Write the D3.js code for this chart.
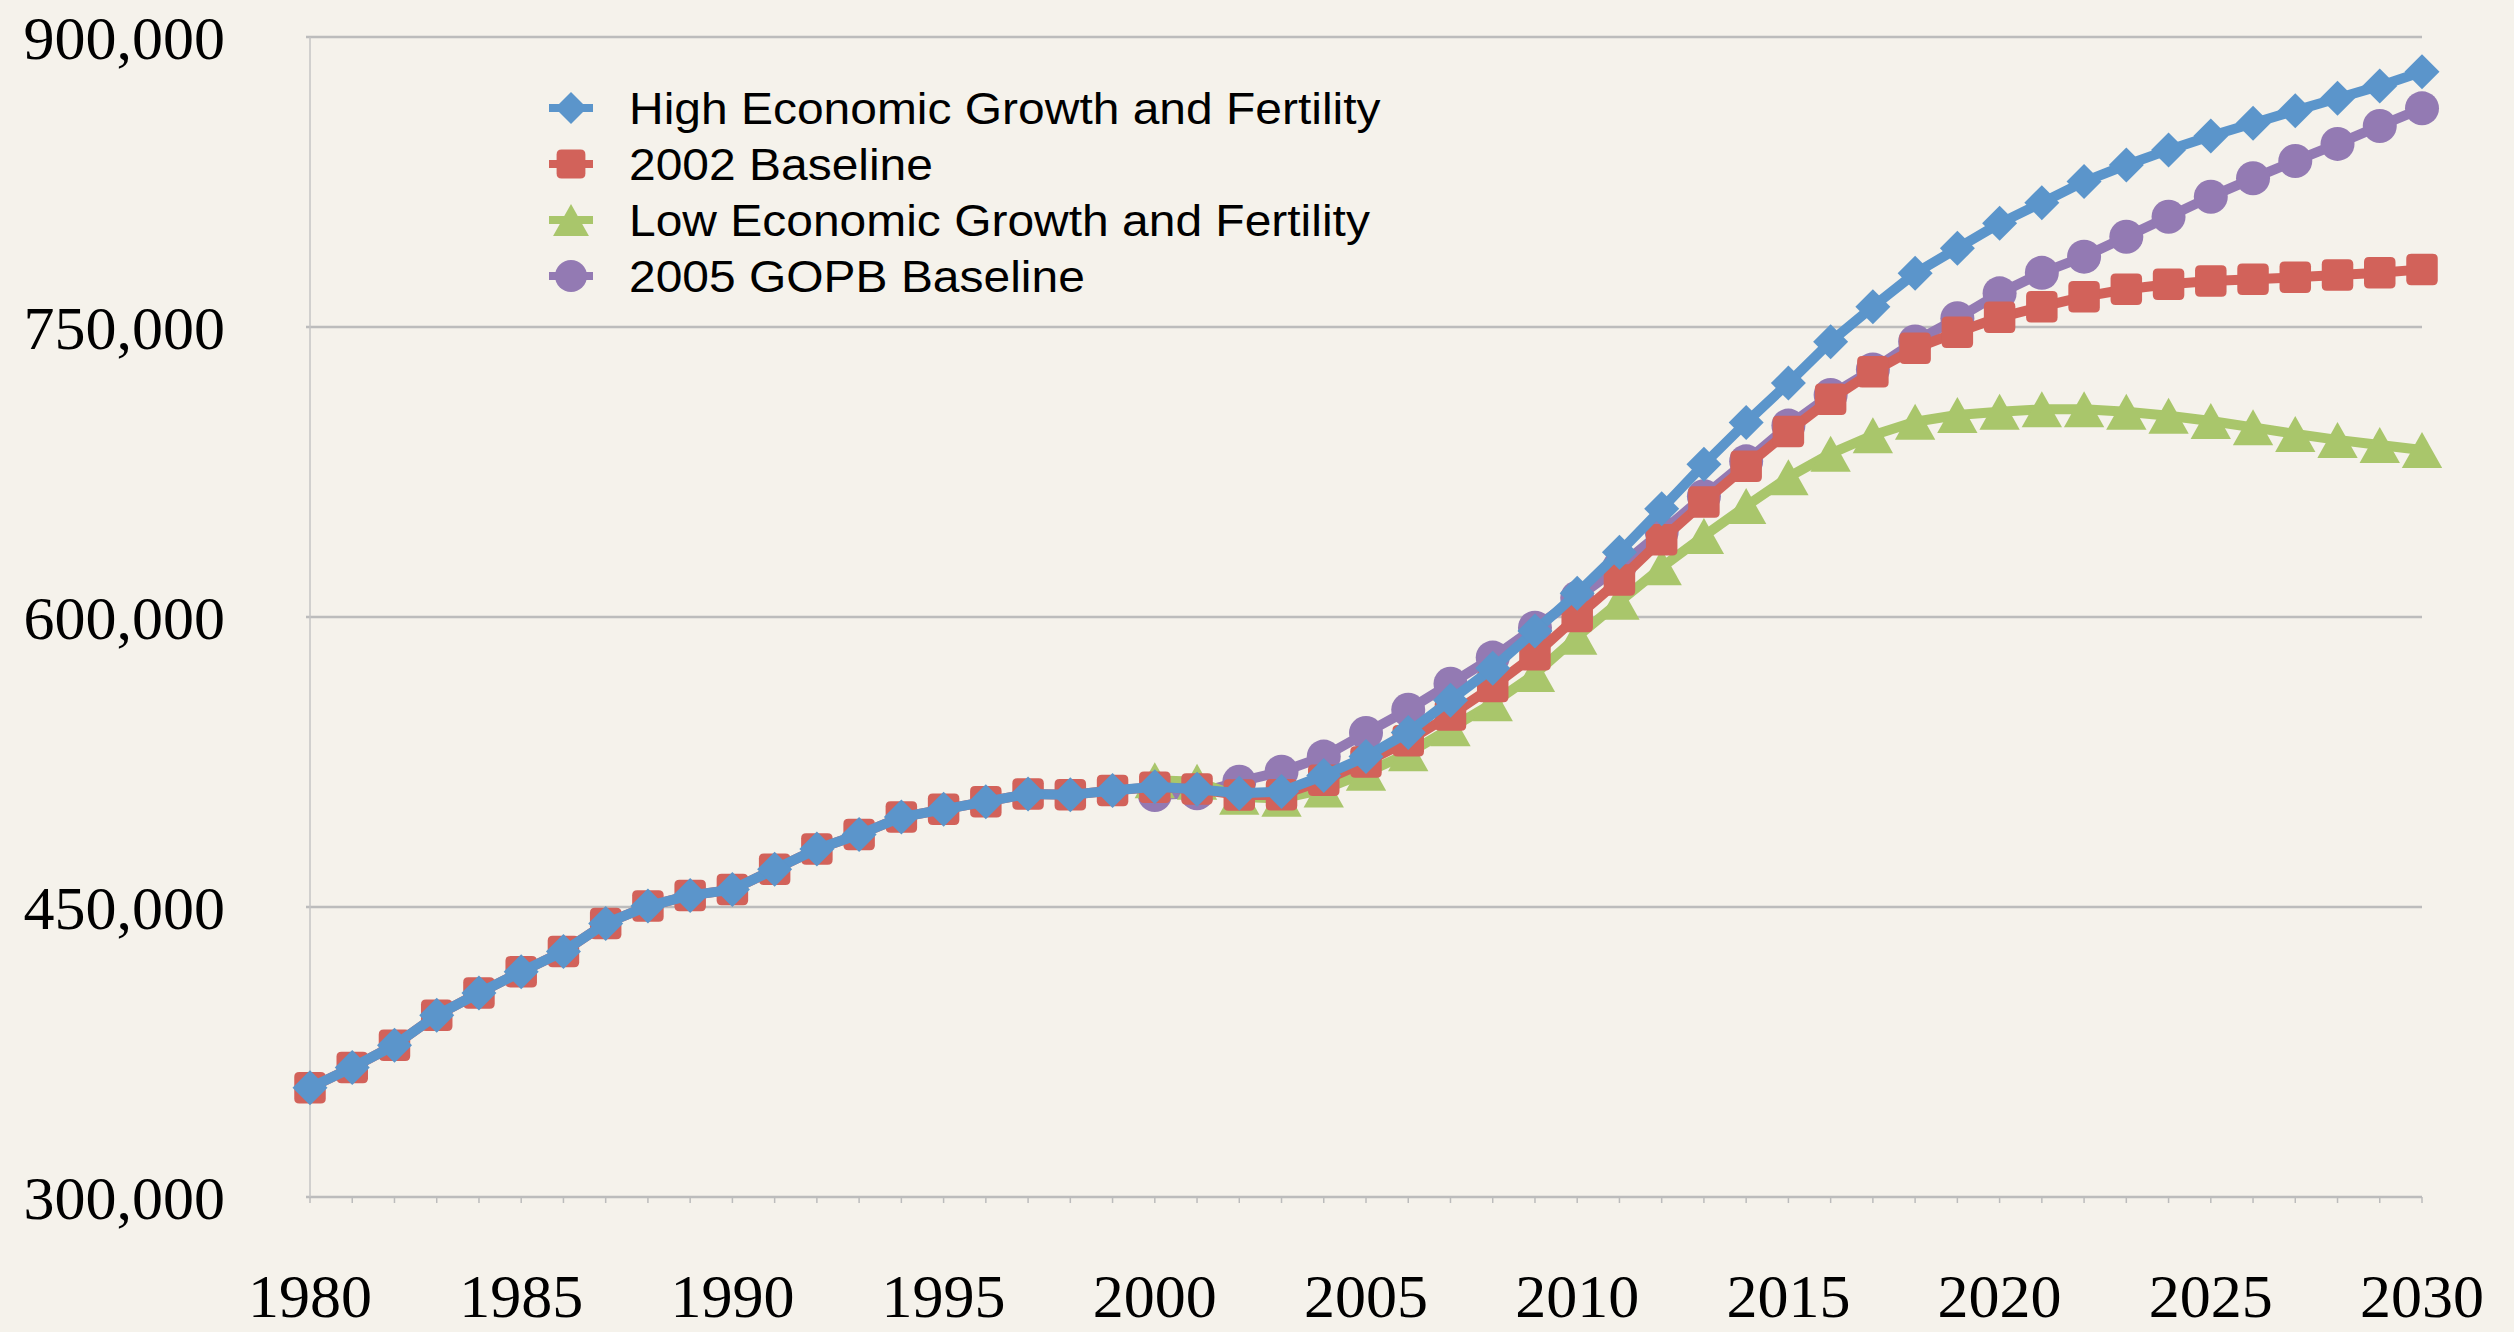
<!DOCTYPE html>
<html>
<head>
<meta charset="utf-8">
<script src="https://cdn.jsdelivr.net/npm/d3@7"></script>
<style>
  html, body { margin: 0; padding: 0; background: #f5f2eb; }
  svg { display: block; }
  .tick-label { font-family: "Liberation Serif", "Times New Roman", serif; font-size: 62px; fill: #000; }
  .legend-label { font-family: "Liberation Sans", Arial, sans-serif; font-size: 44px; fill: #000; }
</style>
</head>
<body>
<svg id="chart" width="2514" height="1332"></svg>
<script>
// Categories and axis ticks
var years = d3.range(1980, 2031);
var yTicks = [300000, 450000, 600000, 750000, 900000];
var xTicks = [1980, 1985, 1990, 1995, 2000, 2005, 2010, 2015, 2020, 2025, 2030];

// Shared estimates 1980-1999 (blue and red sit on top of each other here)
var pastValues = [
  356500, 367000, 378500, 394000, 405500, 416500, 427000, 441500, 450500, 456000,
  459000, 469500, 480000, 487500, 496500, 500500, 504500, 508500, 508000, 510300
];

// Projections 2000-2030
var highGrowth = [
  512200, 510900, 508800, 509700, 518000, 527800, 540300, 557000, 573500, 592800,
  612300, 633500, 656000, 679000, 700600, 721000, 742400, 760500, 777800, 790700,
  803600, 814300, 825200, 833800, 841600, 848800, 855400, 861900, 868300, 874700, 882000
];
var baseline2002 = [
  512000, 511000, 507900, 508000, 515500, 525000, 536000, 549300, 564000, 580500,
  600200, 619100, 640000, 659500, 678000, 696000, 712600, 726900, 739000, 747300,
  755000, 760500, 765700, 769500, 772100, 773800, 774700, 775700, 776900, 778100, 779800
];
var lowGrowth = [
  515500, 514800, 507000, 506000, 510800, 519500, 529500, 542400, 555400, 570500,
  589800, 607900, 625700, 641900, 657400, 672300, 684500, 694000, 701000, 704500,
  706200, 707400, 707400, 706200, 704100, 701400, 698100, 694700, 691600, 689000, 686400
];
var gopb2005 = [
  507900, 508800, 514800, 520000, 527800, 540000, 552000, 565500, 579000, 594500,
  610000, 626000, 644000, 662500, 680500, 699000, 714800, 728000, 742500, 754500,
  767400, 778000, 786400, 796700, 807000, 817400, 826900, 835900, 844700, 854000, 863100
];

var seriesNames = [
  'High Economic Growth and Fertility',
  '2002 Baseline',
  'Low Economic Growth and Fertility',
  '2005 GOPB Baseline'
];
var seriesColors = ['#5b95cb', '#d2625a', '#a9c66b', '#937ab3'];
var seriesShapes = ['diamond', 'square', 'triangle', 'circle'];

/**
 * Pairs a list of values with years, starting at a given year.
 */
function toPoints(values, startYear) {
  return values.map(function(v, i) {
    return {year: startYear + i, value: v};
  });
}

var series = [
  toPoints(pastValues.concat(highGrowth), 1980),
  toPoints(pastValues.concat(baseline2002), 1980),
  toPoints(lowGrowth, 2000),
  toPoints(gopb2005, 2000)
];

var svg = d3.select('#chart');

var x = d3.scaleLinear().domain([1980, 2030]).range([310, 2422]);
var y = d3.scaleLinear().domain([300000, 900000]).range([1197, 37]);

/**
 * Returns an SVG path for a marker shape centred on 0,0.
 */
function markerPath(shape, s) {
  var h = s / 2;
  if (shape === 'diamond') {
    return 'M0,' + (-h) + 'L' + h + ',0L0,' + h + 'L' + (-h) + ',0Z';
  }
  if (shape === 'triangle') {
    var w = s * 0.56;
    return 'M0,' + (-h) + 'L' + w + ',' + h + 'L' + (-w) + ',' + h + 'Z';
  }
  if (shape === 'square') {
    var q = h * 0.9, r = 5;
    return 'M' + (-q + r) + ',' + (-q) + 'H' + (q - r) + 'Q' + q + ',' + (-q) + ' ' + q + ',' + (-q + r) +
      'V' + (q - r) + 'Q' + q + ',' + q + ' ' + (q - r) + ',' + q +
      'H' + (-q + r) + 'Q' + (-q) + ',' + q + ' ' + (-q) + ',' + (q - r) +
      'V' + (-q + r) + 'Q' + (-q) + ',' + (-q) + ' ' + (-q + r) + ',' + (-q) + 'Z';
  }
  // circle
  return 'M' + (-h) + ',0A' + h + ',' + h + ' 0 1,0 ' + h + ',0A' + h + ',' + h + ' 0 1,0 ' + (-h) + ',0Z';
}

// Gridlines
var grid = svg.append('g');
grid.selectAll('line')
  .data(yTicks)
  .enter()
  .append('line')
  .attr('x1', x(1980) - 4)
  .attr('x2', x(2030))
  .attr('y1', function(d) { return y(d); })
  .attr('y2', function(d) { return y(d); })
  .attr('stroke', '#bcbcbc')
  .attr('stroke-width', 2.5);

// Vertical axis line
svg.append('line')
  .attr('x1', x(1980)).attr('x2', x(1980))
  .attr('y1', y(900000)).attr('y2', y(300000))
  .attr('stroke', '#c4c4c4')
  .attr('stroke-width', 1.5);

// Yearly tick marks under the x axis
svg.append('g')
  .selectAll('line')
  .data(years)
  .enter()
  .append('line')
  .attr('x1', function(d) { return x(d); })
  .attr('x2', function(d) { return x(d); })
  .attr('y1', y(300000))
  .attr('y2', y(300000) + 6)
  .attr('stroke', '#bcbcbc')
  .attr('stroke-width', 1.5);

// Y labels
var fmt = d3.format(',');
svg.append('g')
  .selectAll('text')
  .data(yTicks)
  .enter()
  .append('text')
  .attr('class', 'tick-label')
  .attr('x', 225)
  .attr('y', function(d) { return y(d) + 22; })
  .attr('text-anchor', 'end')
  .text(function(d) { return fmt(d); });

// X labels (kept just clear of the bottom edge)
svg.append('g')
  .selectAll('text')
  .data(xTicks)
  .enter()
  .append('text')
  .attr('class', 'tick-label')
  .attr('x', function(d) { return x(d); })
  .attr('y', 1317)
  .attr('text-anchor', 'middle')
  .text(String);

// Series, drawn bottom to top: purple, green, red, blue
var line = d3.line()
  .x(function(d) { return x(d.year); })
  .y(function(d) { return y(d.value); });

var markerSizes = {diamond: 35, square: 35, triangle: 36, circle: 34};

[3, 2, 1, 0].forEach(function(k) {
  var g = svg.append('g');
  g.append('path')
    .datum(series[k])
    .attr('d', line)
    .attr('fill', 'none')
    .attr('stroke', seriesColors[k])
    .attr('stroke-width', 10)
    .attr('stroke-linejoin', 'round');
  g.selectAll('path.marker')
    .data(series[k])
    .enter()
    .append('path')
    .attr('class', 'marker')
    .attr('transform', function(d) {
      return 'translate(' + x(d.year) + ',' + y(d.value) + ')';
    })
    .attr('d', markerPath(seriesShapes[k], markerSizes[seriesShapes[k]]))
    .attr('fill', seriesColors[k]);
});

// Legend
var legend = svg.append('g')
  .selectAll('g')
  .data(seriesNames)
  .enter()
  .append('g')
  .attr('transform', function(d, i) {
    return 'translate(0,' + (124 + i * 56) + ')';
  });

legend.append('line')
  .attr('x1', 549).attr('x2', 593)
  .attr('y1', -16).attr('y2', -16)
  .attr('stroke', function(d, i) { return seriesColors[i]; })
  .attr('stroke-width', 8);

legend.append('path')
  .attr('transform', 'translate(571,-16)')
  .attr('d', function(d, i) { return markerPath(seriesShapes[i], 32); })
  .attr('fill', function(d, i) { return seriesColors[i]; });

// The legend type is a little wider than the installed Arial metrics
legend.append('text')
  .attr('class', 'legend-label')
  .attr('transform', 'translate(629,0) scale(1.09,1)')
  .text(String);
</script>
</body>
</html>
